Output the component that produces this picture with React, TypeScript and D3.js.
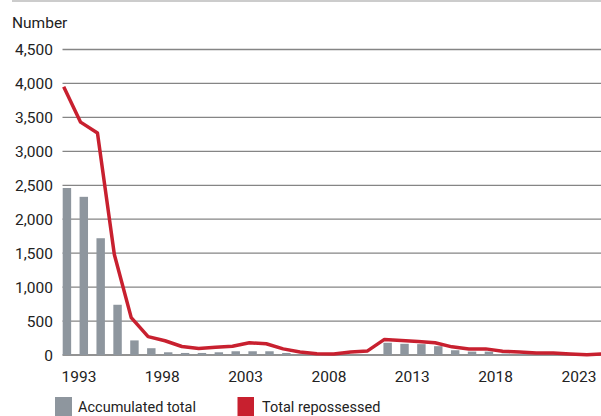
import React from "react";
import * as d3 from "d3";

// Years covered by the series
const years: number[] = d3.range(1993, 2026);

// Accumulated total (bars)
const accumulatedTotal: number[] = [
  2460, 2330, 1720, 740, 215, 100, 40, 30, 30, 40, 55, 55, 55, 30, 5, 0, 0,
  0, 0, 180, 165, 160, 130, 70, 50, 50, 20, 15, 10, 10, 5, 5, 0,
];

// Total repossessed (line)
const totalRepossessed: number[] = [
  3950, 3430, 3270, 1480, 550, 270, 210, 125, 95, 115, 130, 180, 165, 90, 45,
  20, 15, 45, 60, 230, 215, 200, 180, 120, 90, 90, 55, 45, 30, 30, 15, 5, 15,
];

const yTicks: number[] = d3.range(0, 4501, 500);
const xTicks: number[] = [1993, 1998, 2003, 2008, 2013, 2018, 2023];

const legendItems = [
  { label: "Accumulated total", color: "#8E969E" },
  { label: "Total repossessed", color: "#C8202F" },
];

const W = 601;
const H = 416;
const FONT = "Roboto, 'Liberation Sans', sans-serif";

export default function App() {
  const step = 16.88;
  const x0 = 62.7;
  const x = d3
    .scaleBand<number>()
    .domain(years)
    .range([x0, x0 + step * (years.length - 0.5)])
    .paddingInner(0.5)
    .paddingOuter(0)
    .align(0);

  // year-label axis runs on its own, slightly tighter spacing
  const xLabel = d3.scaleLinear().domain([1993, 2023]).range([61.5, 561.5]);

  const y = d3.scaleLinear().domain([0, 4500]).range([355, 49.5]);

  const lineGen = d3
    .line<number>()
    .x((_, i) => (x(years[i]) as number) + 1)
    .y((d) => y(d))
    .curve(d3.curveLinear);

  const fmt = d3.format(",");

  return (
    <svg
      width={W}
      height={H}
      style={{ position: "absolute", left: 0, top: 0, display: "block" }}
      fontFamily={FONT}
    >
      <rect width={W} height={H} fill="#fff" />
      <line x1={12} x2={W} y1={1} y2={1} stroke="#9a9a9a" strokeWidth={1.2} />
      <text x={12} y={28} fontSize={15.5} fill="#222">
        Number
      </text>

      {yTicks.map((t) => (
        <g key={t}>
          <line
            x1={62.5}
            x2={W}
            y1={y(t)}
            y2={y(t)}
            stroke={t === 0 ? "#6f6f6f" : "#858585"}
            strokeWidth={1.3}
          />
          <text
            x={53}
            y={y(t)}
            dy="0.36em"
            textAnchor="end"
            fontSize={15.5}
            fill="#222"
          >
            {fmt(t)}
          </text>
        </g>
      ))}

      {years.map((yr, i) => {
        const v = accumulatedTotal[i];
        if (!v) return null;
        return (
          <rect
            key={yr}
            x={x(yr)}
            y={y(v)}
            width={x.bandwidth()}
            height={y(0) - y(v)}
            fill="#8E969E"
          />
        );
      })}

      <path
        d={lineGen(totalRepossessed) || ""}
        fill="none"
        stroke="#C8202F"
        strokeWidth={3.5}
        strokeLinejoin="round"
      />

      {xTicks.map((t) => (
        <text key={t} x={xLabel(t)} y={381.5} fontSize={15.5} fill="#222">
          {t}
        </text>
      ))}

      <g>
        <rect x={55} y={397} width={17} height={19} fill={legendItems[0].color} />
        <text x={78} y={411.5} fontSize={14.5} fill="#222">
          {legendItems[0].label}
        </text>
        <rect x={237.5} y={397} width={16.5} height={19} fill={legendItems[1].color} />
        <text x={262} y={411.5} fontSize={14.5} fill="#222">
          {legendItems[1].label}
        </text>
      </g>
    </svg>
  );
}
